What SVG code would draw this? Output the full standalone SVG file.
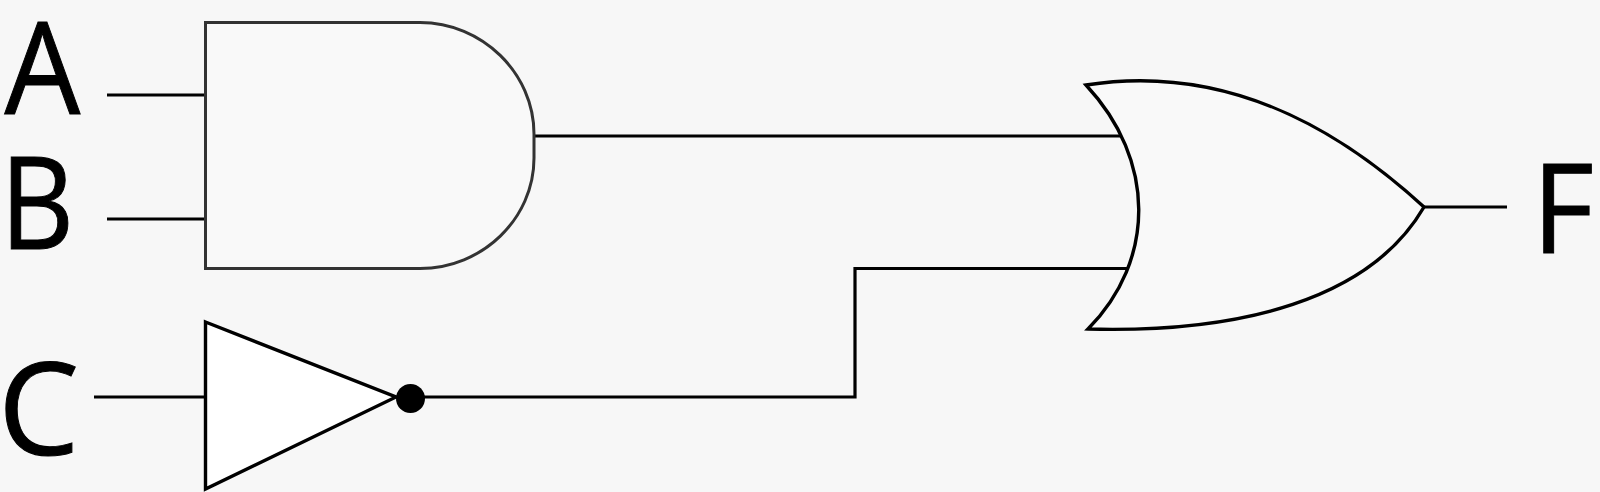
<svg xmlns="http://www.w3.org/2000/svg" width="1600" height="492" viewBox="0 0 1600 492">
<style>
.lab{font-family:"Open Sans","Noto Sans",sans-serif;font-size:129px;fill:#000;stroke:#000;stroke-width:1}
.w{fill:none;stroke:#000;stroke-width:3.200}
.g{stroke:#000;stroke-width:3.400;stroke-linejoin:miter}
</style>
<rect width="1600" height="492" fill="#f7f7f7"/>
<g id="connectors">
<path class="w" d="M107 95H204"/>
<path class="w" d="M107 219H204"/>
<path class="w" d="M94 397H205"/>
<path class="w" d="M534 136H1120"/>
<path class="w" d="M424 397H855V268.500H1127"/>
<path class="w" d="M1424 207H1507"/>
</g>
<g id="and-gate"><path class="g" style="stroke:#333;stroke-width:3" fill="#f9f9f9" d="M205.500 22.500H420C482 22.500 534 73 534 134V158C534 219 482 268.500 420 268.500H205.500Z"/></g>
<g id="not-gate"><path class="g" fill="#fff" d="M205.500 322L396 397L205.500 489Z"/><circle cx="410.500" cy="398.500" r="14.500" fill="#000"/></g>
<g id="or-gate"><path class="g" fill="#f9f9f9" d="M1086 85C1245 60 1362 150 1424 207C1370 300 1240 333 1088 329C1156 260 1156 160 1086 85Z"/></g>
<g id="label-a"><text class="lab" transform="translate(4.500 114) scale(.93 1)">A</text></g>
<g id="label-b"><text class="lab" transform="translate(0 249) scale(.89 .99)">B</text></g>
<g id="label-c"><text class="lab" transform="translate(-2 455)">C</text></g>
<g id="label-f"><text class="lab" transform="translate(1532 253) scale(.93 .97)">F</text></g>
</svg>
